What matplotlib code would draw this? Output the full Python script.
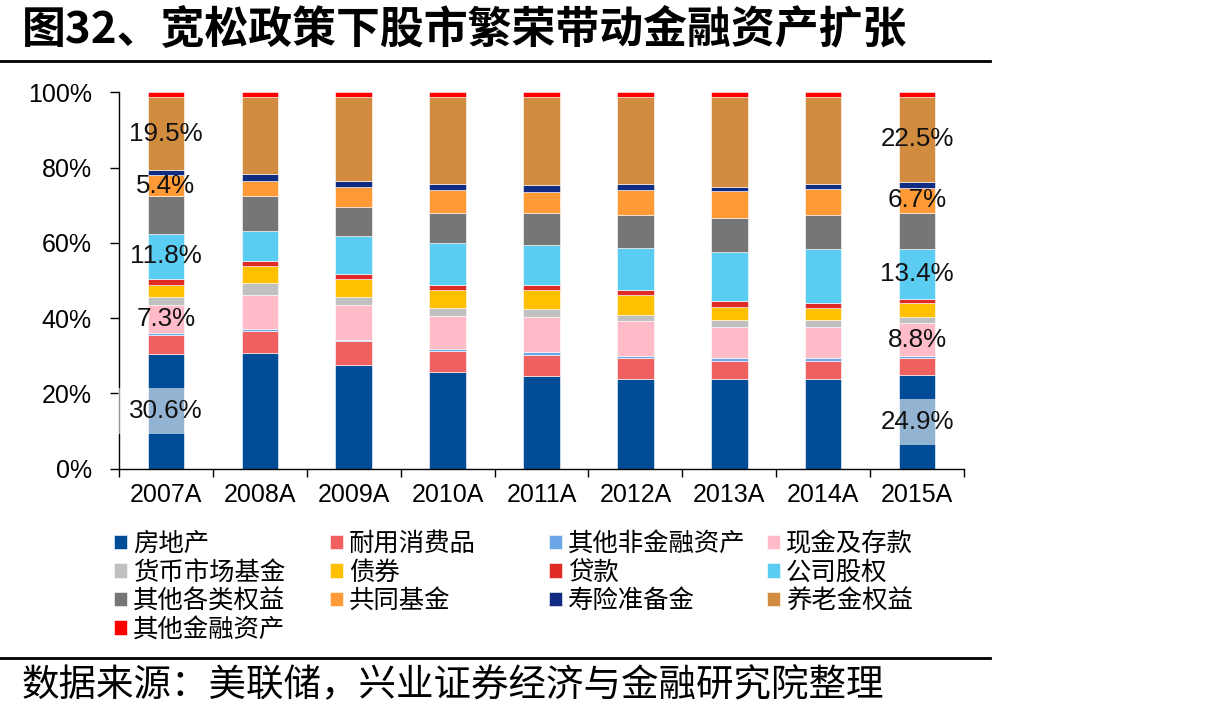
import matplotlib
matplotlib.use('Agg')
import matplotlib.pyplot as plt
import numpy as np
from matplotlib.lines import Line2D

plt.rcParams['font.family'] = ['Liberation Sans', 'Noto Sans CJK SC']

# ---------------- data ----------------
years = ['2007A', '2008A', '2009A', '2010A', '2011A', '2012A', '2013A', '2014A', '2015A']
series_names = ['房地产', '耐用消费品', '其他非金融资产', '现金及存款',
                '货币市场基金', '债券', '贷款', '公司股权',
                '其他各类权益', '共同基金', '寿险准备金', '养老金权益',
                '其他金融资产']
real_estate   = [30.6, 30.8, 27.6, 25.8, 24.7, 23.8, 23.8, 23.8, 24.9]
durable       = [5.0, 5.9, 6.2, 5.5, 5.6, 5.5, 4.8, 4.8, 4.6]
other_nonfin  = [0.5, 0.4, 0.4, 0.5, 0.6, 0.6, 0.7, 0.7, 0.4]
cash          = [7.3, 9.0, 9.3, 8.8, 9.3, 9.3, 8.4, 8.4, 8.8]
mmf           = [2.2, 3.2, 2.2, 2.0, 2.1, 1.6, 1.8, 1.8, 1.6]
bonds         = [3.3, 4.6, 4.6, 4.9, 5.2, 5.3, 3.5, 3.1, 3.8]
loans         = [1.6, 1.3, 1.4, 1.3, 1.3, 1.4, 1.6, 1.3, 0.9]
corp_equity   = [11.8, 8.0, 10.1, 11.2, 10.6, 11.2, 13.0, 14.4, 13.4]
other_equity  = [10.2, 9.3, 7.6, 8.0, 8.6, 8.6, 9.1, 9.0, 9.6]
mutual_funds  = [5.4, 4.0, 5.4, 6.0, 5.6, 6.7, 7.0, 7.0, 6.7]
life_reserves = [1.4, 1.7, 1.7, 1.6, 1.8, 1.6, 1.2, 1.3, 1.6]
pension       = [19.5, 20.6, 22.3, 23.2, 23.4, 23.2, 23.9, 23.2, 22.5]
other_fin     = [1.2, 1.2, 1.2, 1.2, 1.2, 1.2, 1.2, 1.2, 1.2]
yticks = [0, 20, 40, 60, 80, 100]

# labelled segments: (year index, series index)
labelled = [(0, 11), (0, 9), (0, 7), (0, 3), (0, 0),
            (8, 11), (8, 9), (8, 7), (8, 3), (8, 0)]

title = '图32、宽松政策下股市繁荣带动金融资产扩张'
source = '数据来源：美联储，兴业证券经济与金融研究院整理'

colors = ['#004C97', '#EF6161', '#6CA6E6', '#FFBBC8',
          '#C0C0C0', '#FFC000', '#E02A25', '#5BCDF3',
          '#767676', '#FF9A36', '#0F2C82', '#D28C40',
          '#FF0000']

series = [real_estate, durable, other_nonfin, cash, mmf, bonds, loans,
          corp_equity, other_equity, mutual_funds, life_reserves, pension,
          other_fin]

# ---------------- figure ----------------
W, H = 1205, 719
fig = plt.figure(figsize=(W / 100, H / 100), dpi=100)
ax = fig.add_axes([119 / W, 1 - 468.7 / H, 845 / W, 376.4 / H])

x = np.arange(len(years))
bottom = np.zeros(len(years))
containers = []
bottoms = []
for vals, col, name in zip(series, colors, series_names):
    v = np.array(vals)
    c = ax.bar(x, v, width=0.39, bottom=bottom, color=col, label=name,
               edgecolor='white', linewidth=0.4)
    containers.append(c)
    bottoms.append(bottom.copy())
    bottom = bottom + v

for (yi, si) in labelled:
    val = series[si][yi]
    yc = bottoms[si][yi] + val / 2
    kw = {}
    if si == 0:
        kw['bbox'] = dict(facecolor='white', alpha=0.58, edgecolor='none', pad=8)
    ax.text(x[yi], yc, f'{val:.1f}%', ha='center', va='center',
            fontsize=18.7, color='#111111', family=['Liberation Sans'], **kw)

ax.set_xlim(-0.5, len(years) - 0.5)
ax.set_ylim(0, 100)
ax.set_yticks(yticks)
ax.set_yticklabels([f'{t}%' for t in yticks])
ax.set_xticks(x)
ax.set_xticklabels(years)
ax.set_xticks(np.arange(len(years) + 1) - 0.5, minor=True)
ax.tick_params(axis='x', which='major', length=0, pad=10, labelsize=18)
ax.tick_params(axis='x', which='minor', length=6, width=1, direction='out')
ax.tick_params(axis='y', which='major', length=6.5, width=1, direction='out',
               pad=13, labelsize=18)
for s in ['top', 'right']:
    ax.spines[s].set_visible(False)
for s in ['left', 'bottom']:
    ax.spines[s].set_linewidth(1)
    ax.spines[s].set_color('black')

# ---------------- legend (4 fixed-width columns) ----------------
col_x = [114, 330, 549, 767]
ncol = 4
for ci in range(ncol):
    idx = list(range(ci, len(series_names), ncol))
    fig.legend([containers[i] for i in idx], [series_names[i] for i in idx],
               loc='upper left', bbox_to_anchor=(col_x[ci] / W, 1 - 531 / H),
               frameon=False, prop={'family': ['Noto Sans CJK SC'], 'size': 18.3},
               handlelength=0.5, handleheight=0.5, handletextpad=0.25,
               labelspacing=0.1, borderpad=0, borderaxespad=0)

# ---------------- title, rules, source ----------------
fig.text(22 / W, 1 - 30 / H, title, fontsize=31.6, fontweight='bold',
         family=['Noto Sans CJK SC'], ha='left', va='center')
fig.add_artist(Line2D([0, 990 / W], [1 - 61 / H, 1 - 61 / H], color='black', lw=2))
fig.add_artist(Line2D([0, 990 / W], [1 - 658 / H, 1 - 658 / H], color='black', lw=2))
fig.text(22 / W, 1 - 686 / H, source, fontsize=27,
         family=['Noto Sans CJK SC'], ha='left', va='center')

fig.savefig('out.png', dpi=100)
